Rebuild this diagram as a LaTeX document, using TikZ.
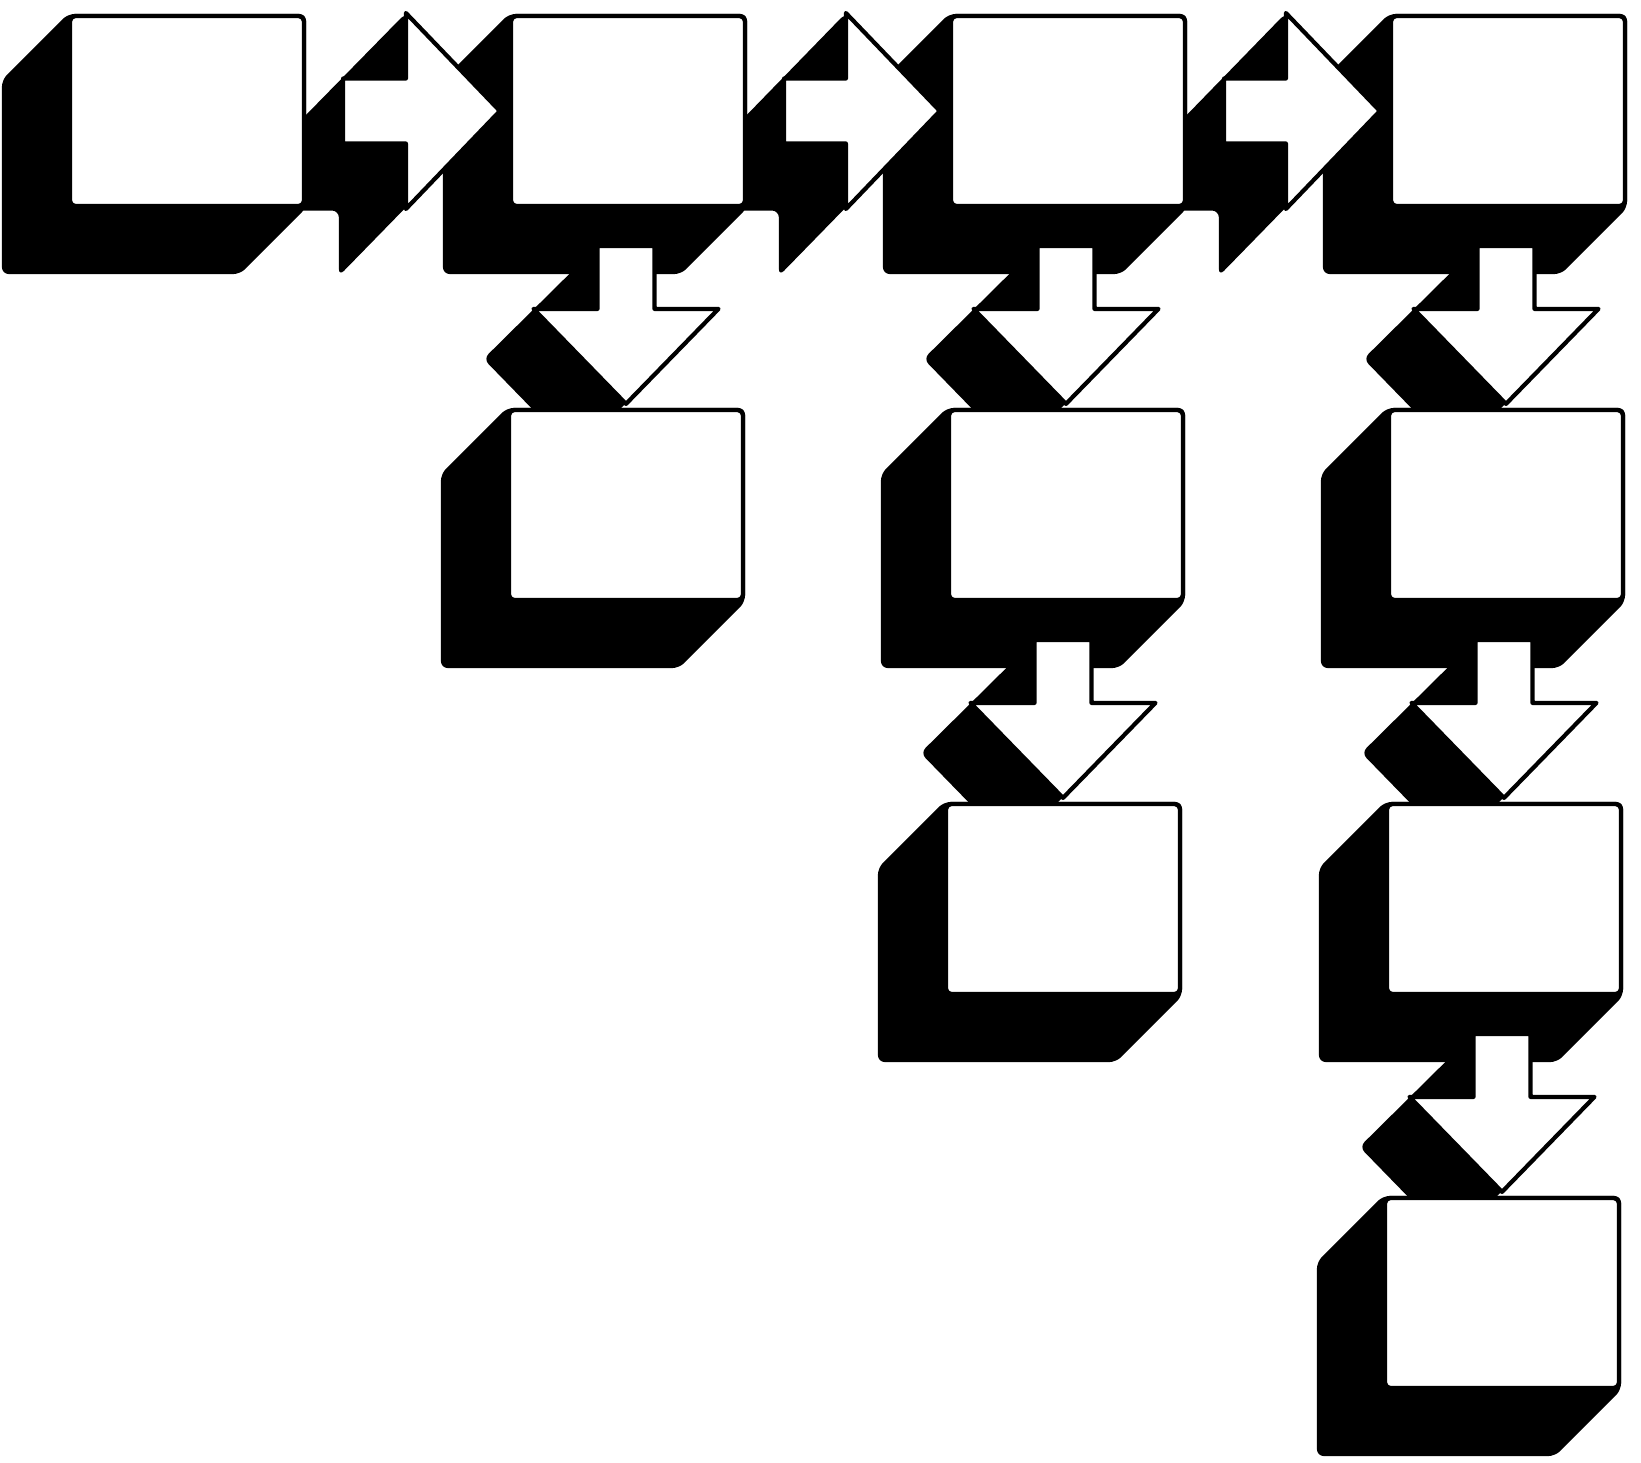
\documentclass[tikz,border=0pt]{standalone}
\usepackage{tikz}
\usetikzlibrary{calc,backgrounds}

\begin{document}
\begin{tikzpicture}[
    panel/.style={draw, line width=1.2pt, fill=white, rounded corners=1.5pt,
                  minimum width=2.34cm, minimum height=1.90cm, inner sep=0pt},
    arrowface/.style={draw, line width=1.2pt, fill=white, line join=round},
    extrude/.style={fill=black, rounded corners=2pt}
    ]

    \useasboundingbox (0,0) rectangle (16.41,-14.63);

    % depth of the black extrusion
    \def\dbox{0.66}
    \def\dright{0.67}
    \def\ddown{0.5}

    % top row
    \node[panel] (b11) at (1.87,-1.11) {};
    \node[panel] (b12) at (6.28,-1.11) {};
    \node[panel] (b13) at (10.68,-1.11) {};
    \node[panel] (b14) at (15.08,-1.11) {};

    % columns going down
    \node[panel] (b22) at (6.26,-5.05) {};
    \node[panel] (b23) at (10.66,-5.05) {};
    \node[panel] (b24) at (15.06,-5.05) {};

    \node[panel] (b33) at (10.63,-8.99) {};
    \node[panel] (b34) at (15.04,-8.99) {};

    \node[panel] (b44) at (15.02,-12.93) {};

    \begin{scope}[on background layer]
        \foreach \n in {b11,b12,b13,b14,b22,b23,b24,b33,b34,b44}
            \fill[extrude] (\n.north west) -- ++(-\dbox,-\dbox)
                -- ([shift={(-\dbox,-\dbox)}]\n.south west)
                -- ([shift={(-\dbox,-\dbox)}]\n.south east)
                -- (\n.south east) -- (\n.north east) -- cycle;
    \end{scope}

    % arrows to the right
    \foreach \a/\c in {b11/b12,b12/b13,b13/b14} {
        \coordinate (t) at ([xshift=3.7mm]\a.east);
        \coordinate (p) at ([xshift=-0.9mm]\c.west);
        \begin{scope}[on background layer]
            \fill[extrude] ($(p)+(-0.94,0.98)$) -- (p)
                -- ($(p)+(-0.94-\dright,-0.98-\dright)$)
                -- ($(p)+(-0.94-\dright,-0.325-\dright)$)
                -- ($(t|-p)+(-\dright,-0.325-\dright)$)
                -- ($(t|-p)+(-\dright,0.325-\dright)$) -- cycle;
        \end{scope}
        \draw[arrowface] ($(t|-p)+(0,0.325)$) -- ($(p)+(-0.94,0.325)$)
            -- ($(p)+(-0.94,0.98)$) -- (p) -- ($(p)+(-0.94,-0.98)$)
            -- ($(p)+(-0.94,-0.325)$) -- ($(t|-p)+(0,-0.325)$) -- cycle;
    }

    % arrows going down
    \foreach \a/\c in {b12/b22,b13/b23,b14/b24,b23/b33,b24/b34,b34/b44} {
        \coordinate (t) at ([yshift=-3.8mm]\a.south);
        \coordinate (p) at ([yshift=0.4mm]\c.north);
        \begin{scope}[on background layer]
            \fill[extrude] ($(p|-t)+(-0.285,0)$) -- ($(p|-t)+(0.285,0)$)
                -- ($(p)+(0.285,0.95)$) -- ($(p)+(0.925,0.95)$)
                -- ($(p)+(-\ddown,-\ddown)$)
                -- ($(p)+(-0.925-\ddown,0.95-\ddown)$) -- cycle;
        \end{scope}
        \draw[arrowface] ($(p|-t)+(-0.285,0)$) -- ($(p|-t)+(0.285,0)$)
            -- ($(p)+(0.285,0.95)$) -- ($(p)+(0.925,0.95)$) -- (p)
            -- ($(p)+(-0.925,0.95)$) -- ($(p)+(-0.285,0.95)$) -- cycle;
    }

\end{tikzpicture}
\end{document}
